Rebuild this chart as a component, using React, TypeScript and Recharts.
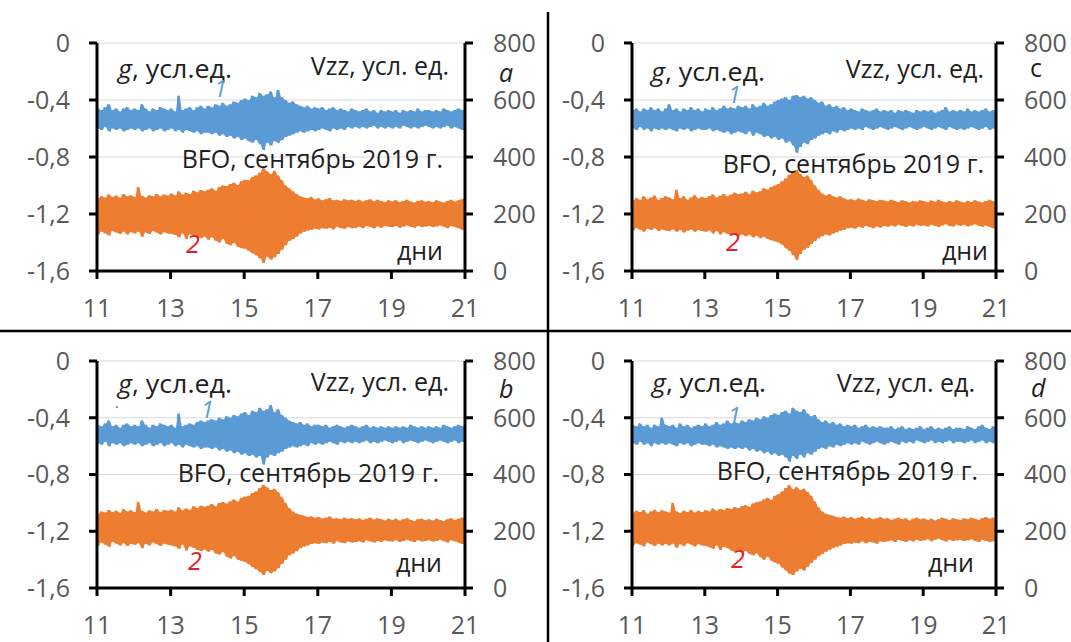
import React from 'react';
import { ComposedChart, Line, Area, XAxis, YAxis, CartesianGrid } from 'recharts';

// Sampling of the envelope arrays: one upper/lower pair every 0.1 day from 11.0 to 21.0
const DAY_START = 11;
const DAY_STEP = 0.1;

const xTicks = [11, 13, 15, 17, 19, 21];
const gTicks = [-1.6, -1.2, -0.8, -0.4, 0];
const vzzTicks = [0, 200, 400, 600, 800];

// ---- panel a ----
const aGHi = [
  -0.46, -0.47, -0.45, -0.43, -0.47, -0.46, -0.48, -0.46, -0.45, -0.47,
  -0.46, -0.47, -0.43, -0.46, -0.48, -0.46, -0.47, -0.45, -0.46, -0.47,
  -0.46, -0.48, -0.37, -0.47, -0.46, -0.45, -0.47, -0.45, -0.44, -0.46,
  -0.44, -0.45, -0.43, -0.44, -0.42, -0.44, -0.43, -0.41, -0.42, -0.40,
  -0.39, -0.40, -0.37, -0.38, -0.35, -0.37, -0.36, -0.34, -0.38, -0.33,
  -0.38, -0.40, -0.42, -0.41, -0.43, -0.44, -0.45, -0.44, -0.46, -0.45,
  -0.46, -0.45, -0.47, -0.46, -0.45, -0.47, -0.46, -0.47, -0.48, -0.46,
  -0.47, -0.48, -0.47, -0.46, -0.48, -0.47, -0.49, -0.47, -0.48, -0.47,
  -0.48, -0.47, -0.49, -0.47, -0.48, -0.47, -0.48, -0.46, -0.48, -0.47,
  -0.47, -0.48, -0.47, -0.48, -0.46, -0.47, -0.48, -0.47, -0.46, -0.47, -0.46,
];
const aGLo = [
  -0.60, -0.61, -0.59, -0.62, -0.60, -0.61, -0.60, -0.62, -0.61, -0.60,
  -0.61, -0.60, -0.62, -0.61, -0.60, -0.62, -0.61, -0.60, -0.62, -0.61,
  -0.60, -0.62, -0.61, -0.63, -0.61, -0.62, -0.63, -0.62, -0.64, -0.63,
  -0.63, -0.64, -0.63, -0.65, -0.64, -0.66, -0.65, -0.67, -0.66, -0.68,
  -0.67, -0.69, -0.70, -0.68, -0.71, -0.75, -0.70, -0.72, -0.69, -0.70,
  -0.68, -0.66, -0.65, -0.64, -0.63, -0.62, -0.63, -0.62, -0.61, -0.62,
  -0.61, -0.60, -0.61, -0.62, -0.60, -0.61, -0.60, -0.61, -0.59, -0.60,
  -0.59, -0.60, -0.59, -0.60, -0.59, -0.58, -0.60, -0.59, -0.60, -0.59,
  -0.60, -0.59, -0.60, -0.58, -0.59, -0.60, -0.59, -0.60, -0.59, -0.58,
  -0.59, -0.60, -0.59, -0.60, -0.59, -0.58, -0.60, -0.59, -0.60, -0.61, -0.60,
];
const aVHi = [
  255, 262, 258, 268, 260, 265, 258, 270, 262, 266,
  260, 295, 264, 258, 266, 262, 270, 262, 268, 265,
  272, 266, 280, 268, 275, 270, 282, 276, 284, 280,
  285, 290, 282, 295, 300, 298, 305, 310, 302, 315,
  320, 318, 330, 335, 345, 361, 350, 340, 352, 335,
  318, 300, 290, 280, 270, 262, 258, 255, 260, 252,
  255, 248, 252, 256, 248, 250, 246, 252, 248, 250,
  246, 250, 244, 248, 252, 245, 250, 246, 242, 248,
  244, 248, 242, 246, 250, 244, 240, 246, 248, 243,
  246, 242, 248, 244, 240, 246, 250, 244, 248, 252, 265,
];
const aVLo = [
  128, 138, 132, 125, 140, 135, 130, 138, 128, 136,
  132, 138, 120, 135, 130, 140, 134, 128, 136, 132,
  130, 126, 118, 132, 112, 128, 124, 118, 115, 120,
  110, 118, 106, 100, 112, 95, 90, 98, 85, 80,
  78, 70, 62, 55, 45, 28, 50, 40, 48, 60,
  75, 90, 105, 112, 120, 132, 138, 142, 145, 148,
  146, 150, 148, 152, 146, 155, 150, 148, 154, 150,
  152, 155, 150, 158, 154, 150, 156, 152, 158, 155,
  154, 158, 152, 156, 160, 155, 152, 158, 154, 156,
  158, 154, 156, 160, 155, 150, 158, 154, 150, 145, 140,
];

// ---- panel b ----
const bGHi = [
  -0.45, -0.46, -0.44, -0.42, -0.46, -0.45, -0.47, -0.45, -0.44, -0.46,
  -0.45, -0.46, -0.42, -0.45, -0.47, -0.45, -0.46, -0.44, -0.45, -0.46,
  -0.45, -0.47, -0.37, -0.46, -0.45, -0.44, -0.45, -0.43, -0.42, -0.43,
  -0.42, -0.41, -0.42, -0.40, -0.41, -0.39, -0.40, -0.38, -0.39, -0.37,
  -0.36, -0.38, -0.35, -0.36, -0.33, -0.35, -0.34, -0.31, -0.36, -0.34,
  -0.38, -0.40, -0.42, -0.43, -0.44, -0.43, -0.45, -0.44, -0.46, -0.45,
  -0.45, -0.46, -0.45, -0.47, -0.46, -0.45, -0.46, -0.47, -0.46, -0.45,
  -0.46, -0.47, -0.46, -0.45, -0.47, -0.46, -0.47, -0.46, -0.47, -0.46,
  -0.47, -0.46, -0.47, -0.46, -0.47, -0.45, -0.46, -0.47, -0.46, -0.47,
  -0.46, -0.47, -0.46, -0.47, -0.45, -0.46, -0.47, -0.46, -0.45, -0.46, -0.45,
];
const bGLo = [
  -0.58, -0.59, -0.57, -0.60, -0.58, -0.59, -0.58, -0.60, -0.59, -0.58,
  -0.59, -0.58, -0.60, -0.59, -0.58, -0.60, -0.59, -0.58, -0.60, -0.59,
  -0.58, -0.60, -0.59, -0.61, -0.59, -0.60, -0.61, -0.60, -0.62, -0.61,
  -0.61, -0.62, -0.61, -0.63, -0.62, -0.64, -0.63, -0.65, -0.64, -0.66,
  -0.65, -0.67, -0.66, -0.68, -0.67, -0.73, -0.68, -0.66, -0.67, -0.65,
  -0.64, -0.62, -0.61, -0.60, -0.61, -0.60, -0.59, -0.60, -0.58, -0.59,
  -0.58, -0.59, -0.58, -0.57, -0.58, -0.59, -0.57, -0.58, -0.57, -0.58,
  -0.57, -0.58, -0.57, -0.56, -0.58, -0.57, -0.58, -0.57, -0.56, -0.57,
  -0.58, -0.57, -0.56, -0.58, -0.57, -0.56, -0.57, -0.58, -0.57, -0.56,
  -0.57, -0.58, -0.57, -0.56, -0.57, -0.58, -0.57, -0.56, -0.58, -0.57, -0.58,
];
const bVHi = [
  262, 270, 266, 275, 268, 272, 265, 278, 270, 274,
  268, 303, 272, 266, 274, 270, 278, 268, 275, 272,
  276, 270, 285, 274, 280, 276, 288, 282, 290, 286,
  290, 296, 288, 300, 303, 298, 306, 312, 305, 318,
  322, 325, 335, 340, 352, 363, 355, 345, 350, 338,
  320, 300, 282, 270, 262, 258, 255, 250, 252, 248,
  250, 245, 248, 252, 244, 246, 242, 248, 244, 246,
  242, 246, 240, 244, 248, 241, 246, 242, 238, 244,
  240, 244, 238, 242, 246, 240, 236, 242, 244, 239,
  242, 238, 244, 240, 236, 242, 246, 240, 244, 248, 255,
];
const bVLo = [
  150, 160, 152, 145, 162, 156, 150, 158, 148, 155,
  152, 158, 140, 155, 150, 160, 154, 148, 156, 152,
  150, 146, 138, 152, 132, 146, 142, 135, 130, 136,
  128, 134, 122, 118, 126, 110, 104, 112, 100, 96,
  92, 84, 74, 66, 56, 46, 60, 52, 58, 70,
  85, 100, 115, 122, 130, 140, 146, 150, 155, 158,
  156, 160, 158, 162, 156, 165, 160, 158, 164, 160,
  162, 165, 160, 168, 164, 160, 166, 162, 168, 165,
  164, 168, 162, 166, 170, 165, 162, 168, 164, 166,
  168, 164, 166, 170, 165, 160, 168, 164, 160, 155, 150,
];

// ---- panel c ----
const cGHi = [
  -0.47, -0.46, -0.48, -0.46, -0.47, -0.45, -0.47, -0.46, -0.48, -0.46,
  -0.43, -0.47, -0.46, -0.48, -0.46, -0.47, -0.45, -0.47, -0.46, -0.48,
  -0.46, -0.47, -0.45, -0.47, -0.46, -0.44, -0.46, -0.45, -0.46, -0.44,
  -0.45, -0.44, -0.46, -0.43, -0.45, -0.44, -0.42, -0.44, -0.43, -0.41,
  -0.40, -0.39, -0.38, -0.40, -0.37, -0.365, -0.38, -0.37, -0.39, -0.38,
  -0.40, -0.42, -0.41, -0.44, -0.43, -0.45, -0.44, -0.46, -0.45, -0.47,
  -0.46, -0.47, -0.48, -0.46, -0.47, -0.48, -0.47, -0.46, -0.48, -0.47,
  -0.48, -0.47, -0.49, -0.47, -0.48, -0.47, -0.48, -0.49, -0.47, -0.48,
  -0.47, -0.48, -0.47, -0.49, -0.48, -0.47, -0.45, -0.48, -0.47, -0.48,
  -0.47, -0.48, -0.46, -0.48, -0.47, -0.48, -0.47, -0.46, -0.48, -0.47, -0.48,
];
const cGLo = [
  -0.60, -0.61, -0.59, -0.61, -0.60, -0.62, -0.60, -0.61, -0.60, -0.61,
  -0.60, -0.61, -0.62, -0.60, -0.61, -0.60, -0.62, -0.61, -0.60, -0.61,
  -0.61, -0.60, -0.62, -0.61, -0.62, -0.63, -0.62, -0.64, -0.63, -0.62,
  -0.63, -0.64, -0.62, -0.65, -0.63, -0.64, -0.66, -0.65, -0.67, -0.66,
  -0.68, -0.67, -0.70, -0.69, -0.72, -0.77, -0.73, -0.70, -0.71, -0.68,
  -0.67, -0.65, -0.64, -0.63, -0.64, -0.62, -0.63, -0.61, -0.62, -0.61,
  -0.60, -0.61, -0.60, -0.61, -0.59, -0.60, -0.61, -0.60, -0.59, -0.60,
  -0.61, -0.60, -0.59, -0.60, -0.61, -0.60, -0.59, -0.60, -0.61, -0.60,
  -0.59, -0.60, -0.61, -0.60, -0.59, -0.60, -0.61, -0.59, -0.60, -0.61,
  -0.60, -0.61, -0.60, -0.59, -0.60, -0.61, -0.60, -0.59, -0.61, -0.60, -0.61,
];
const cVHi = [
  248, 255, 250, 262, 252, 258, 265, 250, 256, 262,
  258, 252, 285, 256, 262, 250, 258, 266, 254, 260,
  256, 262, 268, 258, 264, 270, 262, 268, 275, 270,
  272, 278, 270, 282, 276, 280, 290, 286, 295, 300,
  305, 315, 325, 338, 345, 354, 340, 330, 335, 320,
  300, 285, 272, 265, 270, 262, 258, 262, 255, 250,
  252, 248, 254, 250, 246, 252, 248, 245, 250, 247,
  244, 250, 246, 242, 248, 245, 240, 246, 243, 248,
  245, 241, 247, 243, 250, 244, 240, 246, 242, 248,
  244, 240, 246, 242, 248, 244, 240, 246, 250, 245, 248,
];
const cVLo = [
  142, 150, 145, 138, 148, 144, 150, 140, 146, 142,
  140, 146, 138, 144, 135, 142, 146, 138, 144, 140,
  138, 142, 132, 140, 128, 136, 130, 126, 132, 124,
  128, 122, 126, 118, 124, 115, 120, 112, 108, 104,
  100, 92, 80, 70, 55, 39, 60, 75, 82, 95,
  105, 115, 122, 128, 125, 132, 136, 142, 145, 150,
  152, 148, 155, 152, 158, 154, 150, 156, 152, 158,
  155, 160, 156, 162, 158, 154, 160, 156, 162, 158,
  160, 156, 162, 158, 154, 160, 164, 158, 156, 162,
  158, 162, 156, 160, 164, 158, 155, 160, 154, 150, 148,
];

// ---- panel d ----
const dGHi = [
  -0.45, -0.46, -0.44, -0.46, -0.45, -0.47, -0.45, -0.46, -0.40, -0.45,
  -0.46, -0.45, -0.47, -0.44, -0.46, -0.45, -0.47, -0.46, -0.45, -0.46,
  -0.44, -0.46, -0.45, -0.43, -0.45, -0.44, -0.42, -0.44, -0.43, -0.44,
  -0.42, -0.43, -0.41, -0.42, -0.40, -0.41, -0.39, -0.40, -0.38, -0.37,
  -0.38, -0.36, -0.35, -0.37, -0.33, -0.35, -0.36, -0.34, -0.37, -0.39,
  -0.38, -0.41, -0.43, -0.42, -0.44, -0.43, -0.45, -0.44, -0.46, -0.45,
  -0.46, -0.45, -0.47, -0.46, -0.45, -0.47, -0.46, -0.47, -0.46, -0.47,
  -0.47, -0.46, -0.48, -0.47, -0.46, -0.48, -0.47, -0.48, -0.47, -0.46,
  -0.48, -0.47, -0.46, -0.48, -0.47, -0.48, -0.47, -0.46, -0.48, -0.47,
  -0.47, -0.48, -0.46, -0.47, -0.48, -0.46, -0.45, -0.47, -0.48, -0.46, -0.47,
];
const dGLo = [
  -0.58, -0.59, -0.57, -0.59, -0.58, -0.60, -0.58, -0.59, -0.58, -0.59,
  -0.58, -0.59, -0.60, -0.58, -0.59, -0.58, -0.60, -0.59, -0.58, -0.59,
  -0.59, -0.60, -0.59, -0.61, -0.60, -0.61, -0.62, -0.61, -0.62, -0.61,
  -0.62, -0.61, -0.63, -0.62, -0.64, -0.63, -0.65, -0.64, -0.66, -0.65,
  -0.67, -0.66, -0.68, -0.71, -0.67, -0.69, -0.66, -0.68, -0.65, -0.66,
  -0.64, -0.62, -0.61, -0.62, -0.60, -0.61, -0.59, -0.60, -0.59, -0.58,
  -0.59, -0.58, -0.59, -0.57, -0.58, -0.59, -0.58, -0.57, -0.58, -0.59,
  -0.58, -0.57, -0.58, -0.59, -0.57, -0.58, -0.57, -0.58, -0.56, -0.57,
  -0.58, -0.57, -0.56, -0.58, -0.57, -0.58, -0.57, -0.56, -0.58, -0.57,
  -0.57, -0.58, -0.57, -0.56, -0.58, -0.57, -0.56, -0.58, -0.57, -0.58, -0.57,
];
const dVHi = [
  265, 272, 268, 275, 262, 270, 276, 268, 274, 270,
  266, 300, 270, 264, 272, 268, 275, 266, 272, 268,
  274, 270, 280, 272, 278, 275, 282, 278, 285, 282,
  288, 292, 286, 298, 302, 305, 312, 318, 310, 325,
  330, 340, 352, 363, 348, 355, 345, 350, 338, 325,
  305, 285, 270, 262, 258, 255, 250, 248, 252, 246,
  250, 244, 248, 252, 245, 248, 242, 246, 250, 244,
  246, 240, 244, 248, 242, 246, 238, 244, 248, 242,
  245, 240, 244, 238, 242, 248, 244, 240, 246, 242,
  240, 246, 242, 248, 244, 240, 246, 250, 244, 248, 252,
];
const dVLo = [
  150, 158, 152, 146, 160, 154, 148, 156, 150, 155,
  150, 156, 142, 154, 148, 158, 152, 146, 154, 150,
  148, 144, 138, 150, 134, 145, 140, 132, 128, 134,
  126, 130, 120, 115, 122, 108, 100, 110, 96, 90,
  85, 72, 62, 50, 46, 58, 68, 62, 75, 88,
  100, 112, 120, 128, 135, 140, 145, 150, 155, 158,
  156, 160, 158, 164, 158, 162, 160, 156, 164, 162,
  165, 168, 162, 170, 166, 162, 168, 164, 170, 166,
  168, 172, 165, 170, 174, 168, 164, 170, 166, 168,
  170, 166, 168, 172, 166, 162, 170, 166, 162, 165, 160,
];

const BLUE = '#5b9bd5';
const ORANGE = '#ed7d31';
const RED = '#e3202a';
const FONT = "'Open Sans', 'Noto Sans', sans-serif";
const TICK_STYLE = { fill: '#595959', fontSize: 25, fontFamily: FONT };
const AXIS_STROKE = { stroke: '#000', strokeWidth: 3 };

type Row = { t: number; g: number; vzz: number; gBand: [number, number]; vBand: [number, number] };

// Each 0.1-day step becomes two vertices (upper then lower envelope), so the
// line swings through the full oscillation range like the raw record; the band
// fields fill the space between the swings.
function buildRows(gHi: number[], gLo: number[], vHi: number[], vLo: number[]) {
  const rows: Row[] = [];
  const last = gHi.length - 1;
  for (let i = 0; i <= last; i++) {
    const t = DAY_START + i * DAY_STEP;
    const gBand: [number, number] = [gLo[i], gHi[i]];
    const vBand: [number, number] = [vLo[i], vHi[i]];
    rows.push({ t, g: gHi[i], vzz: vHi[i], gBand, vBand });
    rows.push({ t: i < last ? t + DAY_STEP / 2 : t, g: gLo[i], vzz: vLo[i], gBand, vBand });
  }
  return rows;
}

const rowsA = buildRows(aGHi, aGLo, aVHi, aVLo);
const rowsB = buildRows(bGHi, bGLo, bVHi, bVLo);
const rowsC = buildRows(cGHi, cGLo, cVHi, cVLo);
const rowsD = buildRows(dGHi, dGLo, dVHi, dVLo);

const fmtG = (v: number) => (v === 0 ? '0' : v.toFixed(1).replace('.', ','));

type PanelProps = {
  rows: Row[];
  left: number;
  top: number;
  width: number;
  height: number;
  marginTop: number;
  leftW: number;
  rightW: number;
  xH: number;
};

function Panel({ rows, left, top, width, height, marginTop, leftW, rightW, xH }: PanelProps) {
  return (
    <div style={{ position: 'absolute', left, top }}>
      <ComposedChart
        width={width}
        height={height}
        data={rows}
        margin={{ top: marginTop, right: 0, bottom: 0, left: 0 }}
      >
        <CartesianGrid yAxisId="g" vertical={false} stroke="#d9d9d9" strokeWidth={1.2} />
        <XAxis
          dataKey="t"
          type="number"
          domain={[11, 21]}
          ticks={xTicks}
          interval={0}
          allowDataOverflow
          height={xH}
          tickSize={8}
          tickMargin={20}
          axisLine={AXIS_STROKE}
          tickLine={AXIS_STROKE}
          tick={TICK_STYLE}
        />
        <YAxis
          yAxisId="g"
          domain={[-1.6, 0]}
          ticks={gTicks}
          interval={0}
          allowDataOverflow
          width={leftW}
          tickSize={8}
          tickMargin={19}
          tickFormatter={fmtG}
          axisLine={AXIS_STROKE}
          tickLine={AXIS_STROKE}
          tick={TICK_STYLE}
        />
        <YAxis
          yAxisId="vzz"
          orientation="right"
          domain={[0, 800]}
          ticks={vzzTicks}
          interval={0}
          allowDataOverflow
          width={rightW}
          tickSize={8}
          tickMargin={20}
          axisLine={AXIS_STROKE}
          tickLine={AXIS_STROKE}
          tick={TICK_STYLE}
        />
        <Area
          yAxisId="g"
          dataKey="gBand"
          type="linear"
          stroke="none"
          fill={BLUE}
          fillOpacity={1}
          dot={false}
          activeDot={false}
          isAnimationActive={false}
        />
        <Area
          yAxisId="vzz"
          dataKey="vBand"
          type="linear"
          stroke="none"
          fill={ORANGE}
          fillOpacity={1}
          dot={false}
          activeDot={false}
          isAnimationActive={false}
        />
        <Line
          yAxisId="g"
          dataKey="g"
          type="linear"
          stroke={BLUE}
          strokeWidth={1.4}
          dot={false}
          activeDot={false}
          isAnimationActive={false}
        />
        <Line
          yAxisId="vzz"
          dataKey="vzz"
          type="linear"
          stroke={ORANGE}
          strokeWidth={1.4}
          dot={false}
          activeDot={false}
          isAnimationActive={false}
        />
      </ComposedChart>
    </div>
  );
}

type NoteSet = {
  g: [number, number];
  vzz: [number, number];
  letter: [number, number, string, boolean];
  one: [number, number];
  bfo: [number, number];
  two: [number, number];
  days: [number, number];
};

const notesA: NoteSet = { g: [118, 78], vzz: [449, 75], letter: [499, 82, 'a', true], one: [214, 97], bfo: [443, 168], two: [186, 253], days: [443, 260] };
const notesB: NoteSet = { g: [118, 393], vzz: [449, 391], letter: [499, 398, 'b', true], one: [201, 418], bfo: [439, 482], two: [188, 570], days: [442, 572] };
const notesC: NoteSet = { g: [651, 81], vzz: [984, 78], letter: [1030, 77, 'c', false], one: [728, 103], bfo: [984, 173], two: [726, 251], days: [988, 260] };
const notesD: NoteSet = { g: [652, 392], vzz: [975, 392], letter: [1031, 397, 'd', true], one: [728, 424], bfo: [978, 480], two: [731, 568], days: [974, 572] };

function Notes({ n }: { n: NoteSet }) {
  const base = { fontFamily: FONT, fontSize: 25, fill: '#1f1f1f' };
  return (
    <g>
      <text x={n.g[0]} y={n.g[1]} {...base} textLength={114} lengthAdjust="spacingAndGlyphs">
        <tspan fontStyle="italic">g</tspan>, усл.ед.
      </text>
      <text x={n.vzz[0]} y={n.vzz[1]} textAnchor="end" {...base}>
        Vzz, усл. ед.
      </text>
      <text x={n.letter[0]} y={n.letter[1]} {...base} fontStyle={n.letter[3] ? 'italic' : 'normal'}>
        {n.letter[2]}
      </text>
      <text x={n.one[0]} y={n.one[1]} {...base} fontSize={23} fill={BLUE} fontStyle="italic">
        1
      </text>
      <text x={n.bfo[0]} y={n.bfo[1]} textAnchor="end" {...base}>
        BFO, сентябрь 2019 г.
      </text>
      <text x={n.two[0]} y={n.two[1]} {...base} fill={RED} fontStyle="italic">
        2
      </text>
      <text x={n.days[0]} y={n.days[1]} textAnchor="end" {...base}>
        дни
      </text>
    </g>
  );
}

export default function App() {
  return (
    <div style={{ position: 'absolute', left: 0, top: 0, width: 1071, height: 642, background: '#fff', overflow: 'hidden' }}>
      <Panel rows={rowsA} left={0} top={0} width={548} height={330} marginTop={43} leftW={97} rightW={83} xH={59} />
      <Panel rows={rowsB} left={0} top={330} width={548} height={312} marginTop={31} leftW={97} rightW={83} xH={54} />
      <Panel rows={rowsC} left={548} top={0} width={523} height={330} marginTop={43} leftW={84} rightW={75} xH={59} />
      <Panel rows={rowsD} left={548} top={330} width={523} height={312} marginTop={31} leftW={84} rightW={75} xH={54} />
      <svg width={1071} height={642} style={{ position: 'absolute', left: 0, top: 0, pointerEvents: 'none' }}>
        <Notes n={notesA} />
        <Notes n={notesB} />
        <Notes n={notesC} />
        <Notes n={notesD} />
        <text x={115} y={408} fontFamily={FONT} fontSize={14} fill="#555">.</text>
        {/* quadrant dividers */}
        <line x1={548} y1={12} x2={548} y2={642} stroke="#000" strokeWidth={2.5} />
        <line x1={0} y1={331} x2={1071} y2={331} stroke="#000" strokeWidth={2.5} />
      </svg>
    </div>
  );
}
